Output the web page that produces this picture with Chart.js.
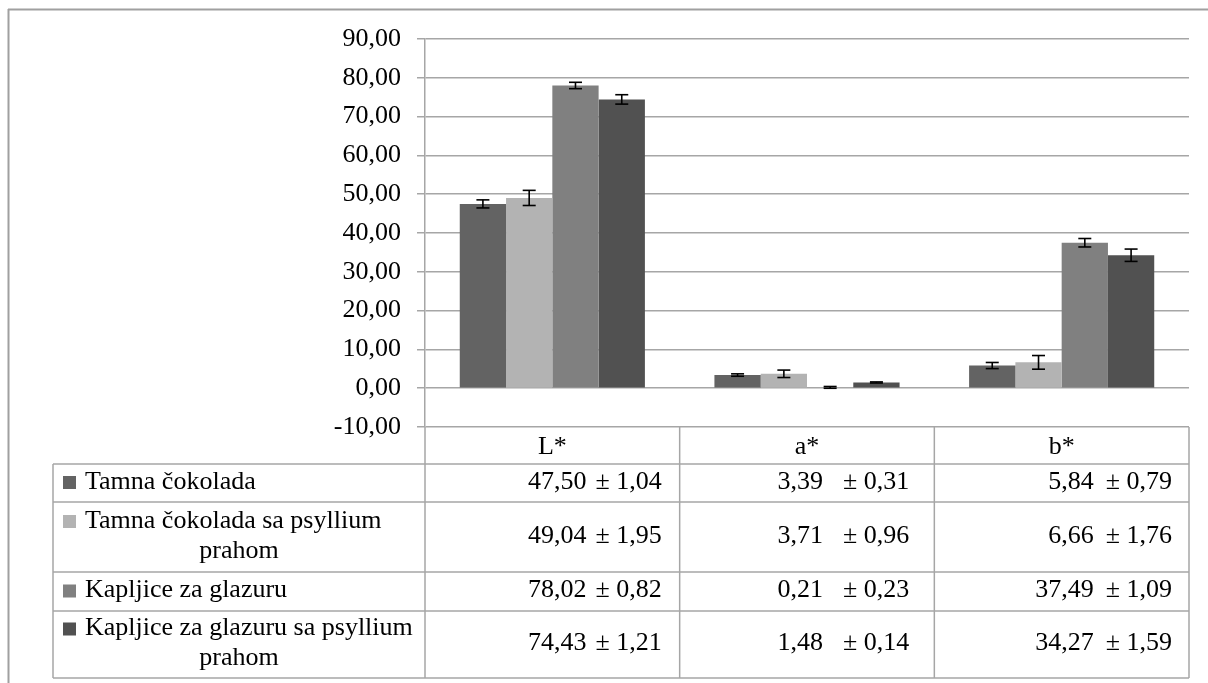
<!DOCTYPE html>
<html lang="sr">
<head>
<meta charset="UTF-8" />
<title>L* a* b* vrijednosti</title>
<style>
  body {
    margin: 0;
    background: #ffffff;
    overflow: hidden;
  }
  #wrap {
    width: 1208px;
    height: 683px;
    position: relative;
  }
</style>
</head>
<body>
<div id="wrap"><canvas id="colorChart" aria-label="L*, a*, b* vrijednosti" role="img"></canvas></div>

<script src="https://cdn.jsdelivr.net/npm/chart.js"></script>
<script>
  // data
  const categories = ['L*', 'a*', 'b*'];
  const seriesNames = [
    'Tamna čokolada',
    'Tamna čokolada sa psyllium prahom',
    'Kapljice za glazuru',
    'Kapljice za glazuru sa psyllium prahom'
  ];
  const tamnaMean = [47.50, 3.39, 5.84];
  const tamnaSd = [1.04, 0.31, 0.79];
  const tamnaPsylliumMean = [49.04, 3.71, 6.66];
  const tamnaPsylliumSd = [1.95, 0.96, 1.76];
  const kapljiceMean = [78.02, 0.21, 37.49];
  const kapljiceSd = [0.82, 0.23, 1.09];
  const kapljicePsylliumMean = [74.43, 1.48, 34.27];
  const kapljicePsylliumSd = [1.21, 0.14, 1.59];
  const yMin = -10, yMax = 90, yStep = 10;

  const means = [tamnaMean, tamnaPsylliumMean, kapljiceMean, kapljicePsylliumMean];
  const sds = [tamnaSd, tamnaPsylliumSd, kapljiceSd, kapljicePsylliumSd];

  // look
  const seriesColors = ['#636363', '#b3b3b3', '#808080', '#515151'];
  const lineColor = '#a6a6a6';
  const fontFamily = '"Liberation Serif", "Times New Roman", serif';
  const fontSize = 26;
  const tableLeft = 53;
  const rowEdges = [464, 502, 572, 611, 678];
  // "± sd" ends this far from the cell's right edge; mean sits this far before the "±"
  const cellInsetRight = [18, 25, 17];
  const meanGap = [9, 20, 12];

  const fmt = v => v.toFixed(2).replace('.', ',');

  function line(ctx, x1, y1, x2, y2) {
    ctx.beginPath();
    ctx.moveTo(x1, y1);
    ctx.lineTo(x2, y2);
    ctx.stroke();
  }

  function wrapText(ctx, text, maxWidth) {
    const words = text.split(' ');
    const lines = [];
    let cur = '';
    words.forEach(w => {
      const test = cur ? cur + ' ' + w : w;
      if (cur && ctx.measureText(test).width > maxWidth) {
        lines.push(cur);
        cur = w;
      } else {
        cur = test;
      }
    });
    lines.push(cur);
    return lines;
  }

  const errorBars = {
    id: 'errorBars',
    afterDatasetsDraw(chart) {
      const ctx = chart.ctx;
      const y = chart.scales.y;
      ctx.save();
      ctx.strokeStyle = '#000';
      ctx.lineWidth = 1.6;
      chart.data.datasets.forEach((ds, i) => {
        chart.getDatasetMeta(i).data.forEach((bar, j) => {
          const hi = y.getPixelForValue(ds.data[j] + ds.sd[j]);
          const lo = y.getPixelForValue(ds.data[j] - ds.sd[j]);
          line(ctx, bar.x, hi, bar.x, lo);
          line(ctx, bar.x - 6.5, hi, bar.x + 6.5, hi);
          line(ctx, bar.x - 6.5, lo, bar.x + 6.5, lo);
        });
      });
      ctx.restore();
    }
  };

  const dataTable = {
    id: 'dataTable',
    afterDraw(chart) {
      const ctx = chart.ctx;
      const x = chart.scales.x;
      const y = chart.scales.y;
      const area = chart.chartArea;
      const half = (x.getPixelForValue(1) - x.getPixelForValue(0)) / 2;
      const top = y.getPixelForValue(yMin);
      const bottom = rowEdges[rowEdges.length - 1];

      ctx.save();
      // outer frame
      ctx.strokeStyle = '#a0a0a0';
      ctx.lineWidth = 2;
      line(ctx, 8, 9.5, chart.width, 9.5);
      line(ctx, 8.5, 9, 8.5, chart.height);

      // table grid
      ctx.strokeStyle = lineColor;
      ctx.lineWidth = 1.5;
      rowEdges.forEach(e => line(ctx, tableLeft, e, area.right, e));
      line(ctx, tableLeft, rowEdges[0], tableLeft, bottom);
      line(ctx, area.left, top, area.left, bottom);
      categories.forEach((c, j) => {
        const bx = x.getPixelForValue(j) + half;
        line(ctx, bx, top, bx, bottom);
      });

      // legend column + values
      ctx.font = fontSize + 'px ' + fontFamily;
      ctx.textBaseline = 'middle';
      ctx.fillStyle = '#000';
      seriesNames.forEach((name, i) => {
        const rTop = rowEdges[i], rBot = rowEdges[i + 1];
        const mid = (rTop + rBot) / 2;
        const lines = wrapText(ctx, name, area.left - 85 - 4);
        const lh = 30;
        const firstY = mid - (lines.length - 1) * lh / 2 - 1;

        ctx.fillStyle = seriesColors[i];
        ctx.fillRect(63, firstY - 6, 13, 13);
        ctx.fillStyle = '#000';
        lines.forEach((t, k) => {
          if (k === 0) {
            ctx.textAlign = 'left';
            ctx.fillText(t, 85, firstY);
          } else {
            ctx.textAlign = 'center';
            ctx.fillText(t, (tableLeft + area.left) / 2, firstY + k * lh);
          }
        });

        categories.forEach((c, j) => {
          const right = x.getPixelForValue(j) + half - cellInsetRight[j];
          const sdText = '± ' + fmt(sds[i][j]);
          ctx.textAlign = 'right';
          ctx.fillText(sdText, right, mid - 1);
          const plusStart = right - ctx.measureText(sdText).width;
          ctx.fillText(fmt(means[i][j]), plusStart - meanGap[j], mid - 1);
        });
      });
      ctx.restore();
    }
  };

  const datasets = seriesNames.map((name, i) => ({
    label: name,
    data: means[i],
    sd: sds[i],
    backgroundColor: seriesColors[i],
    borderWidth: 0,
    categoryPercentage: 0.727,
    barPercentage: 1.0
  }));

  Chart.defaults.font.family = fontFamily;
  Chart.defaults.color = '#000';

  new Chart(document.getElementById('colorChart'), {
    type: 'bar',
    data: { labels: categories, datasets },
    options: {
      responsive: true,
      maintainAspectRatio: false,
      animation: false,
      layout: { padding: { top: 39, right: 19, left: 0, bottom: 0 } },
      plugins: {
        legend: { display: false },
        tooltip: { enabled: false }
      },
      scales: {
        x: {
          grid: { display: false },
          border: { display: false },
          ticks: { font: { size: fontSize }, color: '#000', padding: -3 },
          afterFit(scale) { scale.height = 256; }
        },
        y: {
          min: yMin,
          max: yMax,
          ticks: {
            stepSize: yStep,
            font: { size: fontSize },
            color: '#000',
            padding: 16,
            callback: v => fmt(v)
          },
          grid: { color: lineColor, lineWidth: 1.5, tickLength: 8, tickColor: lineColor },
          border: { display: true, color: lineColor, width: 1.5 },
          afterFit(scale) { scale.width = 425; }
        }
      }
    },
    plugins: [errorBars, dataTable]
  });
</script>
</body>
</html>
